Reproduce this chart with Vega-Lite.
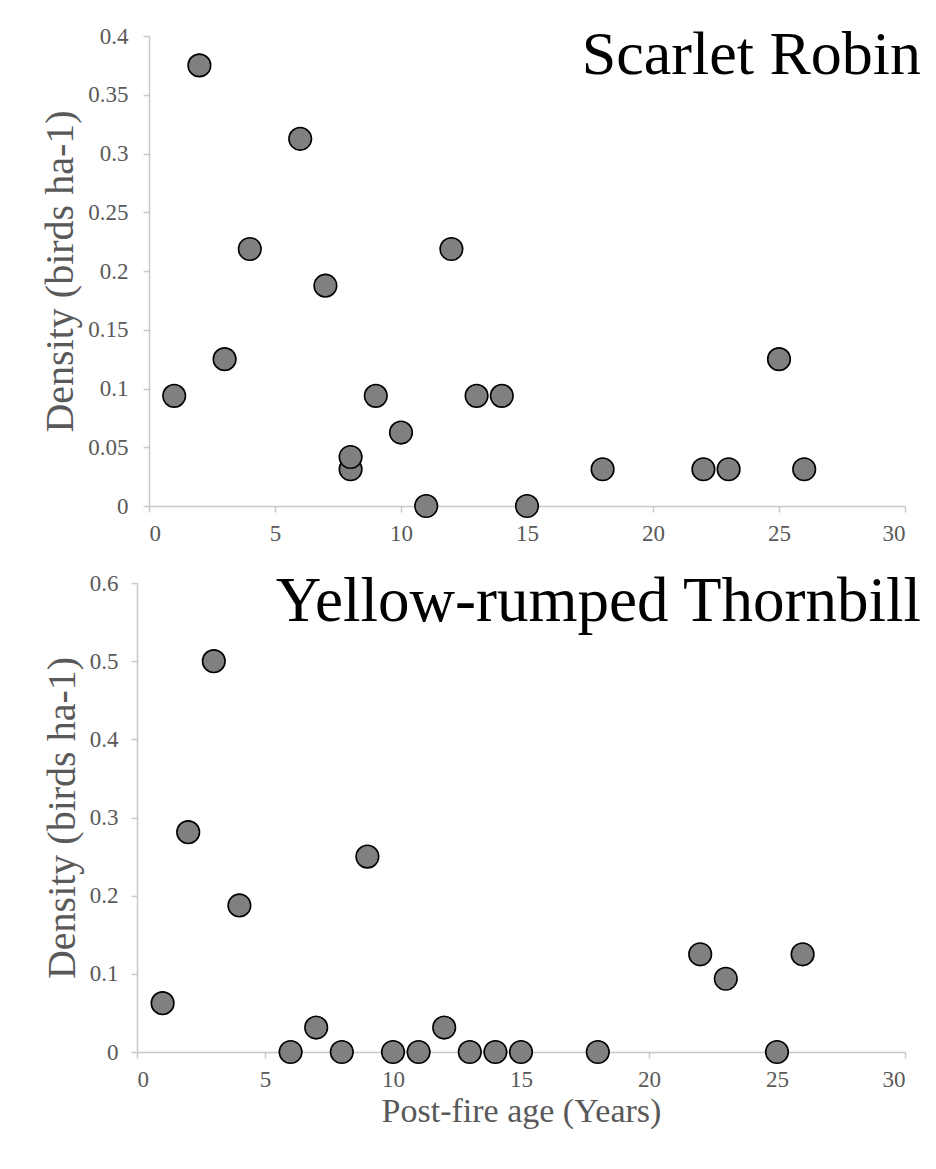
{
  "$schema": "https://vega.github.io/schema/vega-lite/v6.json",
  "background": "white",
  "padding": {"left": 40, "top": 24, "right": 5, "bottom": 5},
  "spacing": 26,
  "config": {
    "font": "Liberation Serif",
    "view": {"stroke": null}
  },
  "datasets": {
    "robin": [
      {"age": 1, "density": 0.09375},
      {"age": 2, "density": 0.375},
      {"age": 3, "density": 0.125},
      {"age": 4, "density": 0.21875},
      {"age": 6, "density": 0.3125},
      {"age": 7, "density": 0.1875},
      {"age": 8, "density": 0.03125},
      {"age": 8, "density": 0.0417},
      {"age": 9, "density": 0.09375},
      {"age": 10, "density": 0.0625},
      {"age": 11, "density": 0},
      {"age": 12, "density": 0.21875},
      {"age": 13, "density": 0.09375},
      {"age": 14, "density": 0.09375},
      {"age": 15, "density": 0},
      {"age": 18, "density": 0.03125},
      {"age": 22, "density": 0.03125},
      {"age": 23, "density": 0.03125},
      {"age": 25, "density": 0.125},
      {"age": 26, "density": 0.03125}
    ],
    "thornbill": [
      {"age": 1, "density": 0.0625},
      {"age": 2, "density": 0.28125},
      {"age": 3, "density": 0.5},
      {"age": 4, "density": 0.1875},
      {"age": 6, "density": 0},
      {"age": 7, "density": 0.03125},
      {"age": 8, "density": 0},
      {"age": 9, "density": 0.25},
      {"age": 10, "density": 0},
      {"age": 11, "density": 0},
      {"age": 12, "density": 0.03125},
      {"age": 13, "density": 0},
      {"age": 14, "density": 0},
      {"age": 15, "density": 0},
      {"age": 18, "density": 0},
      {"age": 22, "density": 0.125},
      {"age": 23, "density": 0.09375},
      {"age": 25, "density": 0},
      {"age": 26, "density": 0.125}
    ],
    "labels": [
      {"species": "Scarlet Robin"},
      {"species": "Yellow-rumped Thornbill"}
    ]
  },
  "vconcat": [
    {
      "width": 756,
      "height": 470,
      "layer": [
        {
          "data": {"name": "robin"},
          "mark": {"type": "point", "shape": "circle", "filled": true, "size": 510, "fill": "#808080", "stroke": "black", "strokeWidth": 1.6, "opacity": 1},
          "encoding": {
            "x": {"field": "age", "type": "quantitative", "scale": {"domain": [0, 30], "nice": false},
              "axis": {"values": [0, 5, 10, 15, 20, 25, 30], "title": null, "grid": false, "domainColor": "#c8c8c8", "tickColor": "#c8c8c8", "domainWidth": 1.5, "tickWidth": 1.5, "tickSize": 6, "labelFont": "Liberation Serif", "labelFontSize": 23, "labelColor": "#595959", "labelPadding": 10}},
            "y": {"field": "density", "type": "quantitative", "scale": {"domain": [0, 0.4], "nice": false},
              "axis": {"values": [0, 0.05, 0.1, 0.15, 0.2, 0.25, 0.3, 0.35, 0.4], "format": "~g", "grid": false, "domainColor": "#c8c8c8", "tickColor": "#c8c8c8", "domainWidth": 1.5, "tickWidth": 1.5, "tickSize": 6, "labelFont": "Liberation Serif", "labelFontSize": 23, "labelColor": "#595959", "labelPadding": 15,
                "title": "Density (birds ha-1)", "titleFont": "Liberation Serif", "titleFontSize": 40, "titleFontWeight": "normal", "titleColor": "#595959", "titlePadding": 7}}
          }
        },
        {
          "data": {"name": "labels"},
          "transform": [{"filter": "datum.species === 'Scarlet Robin'"}],
          "mark": {"type": "text", "align": "right", "baseline": "alphabetic", "fontSize": 62, "font": "Liberation Serif", "color": "black", "dx": 16, "dy": 38},
          "encoding": {
            "x": {"datum": 30, "type": "quantitative"},
            "y": {"datum": 0.4, "type": "quantitative"},
            "text": {"field": "species"}
          }
        }
      ]
    },
    {
      "width": 756,
      "height": 469,
      "layer": [
        {
          "data": {"name": "thornbill"},
          "mark": {"type": "point", "shape": "circle", "filled": true, "size": 510, "fill": "#808080", "stroke": "black", "strokeWidth": 1.6, "opacity": 1},
          "encoding": {
            "x": {"field": "age", "type": "quantitative", "scale": {"domain": [0, 30], "nice": false, "range": [-12, 756]},
              "axis": {"values": [0, 5, 10, 15, 20, 25, 30], "grid": false, "domainColor": "#c8c8c8", "tickColor": "#c8c8c8", "domainWidth": 1.5, "tickWidth": 1.5, "tickSize": 6, "labelFont": "Liberation Serif", "labelFontSize": 23, "labelColor": "#595959", "labelPadding": 10,
                "title": "Post-fire age (Years)", "titleFont": "Liberation Serif", "titleFontSize": 34, "titleFontWeight": "normal", "titleColor": "#595959", "titlePadding": 3}},
            "y": {"field": "density", "type": "quantitative", "scale": {"domain": [0, 0.6], "nice": false},
              "axis": {"values": [0, 0.1, 0.2, 0.3, 0.4, 0.5, 0.6], "format": "~g", "offset": 12, "grid": false, "domainColor": "#c8c8c8", "tickColor": "#c8c8c8", "domainWidth": 1.5, "tickWidth": 1.5, "tickSize": 6, "labelFont": "Liberation Serif", "labelFontSize": 23, "labelColor": "#595959", "labelPadding": 13,
                "title": "Density (birds ha-1)", "titleFont": "Liberation Serif", "titleFontSize": 40, "titleFontWeight": "normal", "titleColor": "#595959", "titlePadding": 7}}
          }
        },
        {
          "data": {"name": "labels"},
          "transform": [{"filter": "datum.species === 'Yellow-rumped Thornbill'"}],
          "mark": {"type": "text", "align": "right", "baseline": "alphabetic", "fontSize": 63, "font": "Liberation Serif", "color": "black", "dx": 16, "dy": 38},
          "encoding": {
            "x": {"datum": 30, "type": "quantitative"},
            "y": {"datum": 0.6, "type": "quantitative"},
            "text": {"field": "species"}
          }
        }
      ]
    }
  ]
}
